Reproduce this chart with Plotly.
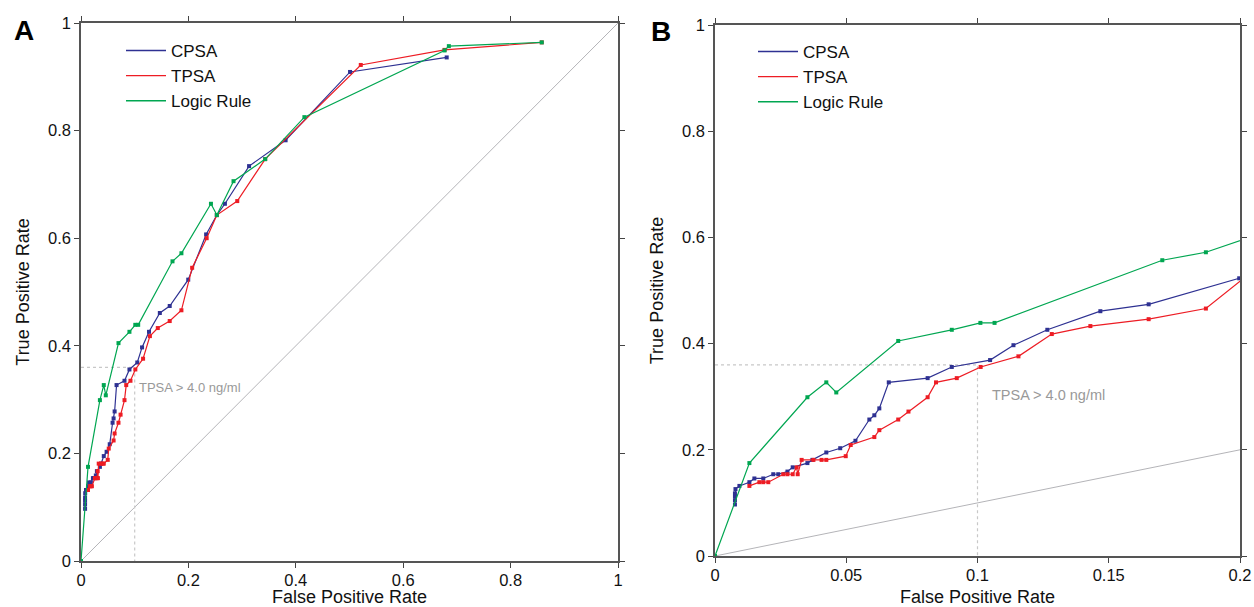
import plotly.graph_objects as go

# ---------------- data ----------------
cpsa_fpr = [0.0076, 0.0076, 0.0076, 0.0076, 0.0078, 0.0093, 0.0131, 0.0150, 0.0184, 0.0222,
            0.0241, 0.0276, 0.0296, 0.0352, 0.0371, 0.0424, 0.0477, 0.0535, 0.0588, 0.0607,
            0.0626, 0.0662, 0.0810, 0.0902, 0.1048, 0.1137, 0.1266, 0.1468, 0.1652, 0.1997,
            0.233, 0.253, 0.268, 0.313, 0.381, 0.501, 0.681]
cpsa_tpr = [0.097, 0.105, 0.112, 0.118, 0.126, 0.132, 0.139, 0.146, 0.146, 0.154,
            0.154, 0.159, 0.167, 0.175, 0.181, 0.195, 0.203, 0.217, 0.257, 0.265,
            0.278, 0.327, 0.335, 0.356, 0.369, 0.397, 0.426, 0.461, 0.474, 0.523,
            0.607, 0.643, 0.664, 0.734, 0.782, 0.909, 0.936]

tpsa_fpr = [0.0131, 0.0169, 0.0184, 0.0203, 0.0260, 0.0276, 0.0296, 0.0311, 0.0315, 0.0330,
            0.0375, 0.0406, 0.0424, 0.0498, 0.0517, 0.0607, 0.0626, 0.0698, 0.0737, 0.0810,
            0.0842, 0.0921, 0.1012, 0.1156, 0.1283, 0.1430, 0.1652, 0.1870, 0.207, 0.234,
            0.253, 0.291, 0.343, 0.521, 0.677, 0.858]
tpsa_tpr = [0.132, 0.139, 0.139, 0.139, 0.154, 0.154, 0.154, 0.167, 0.154, 0.181,
            0.181, 0.181, 0.181, 0.188, 0.209, 0.224, 0.237, 0.257, 0.272, 0.299,
            0.327, 0.335, 0.356, 0.376, 0.418, 0.433, 0.446, 0.466, 0.545, 0.600,
            0.643, 0.669, 0.747, 0.922, 0.950, 0.964]

logic_fpr = [0.0, 0.0131, 0.0352, 0.0424, 0.0462, 0.0698, 0.0902, 0.1011, 0.1065, 0.1704,
             0.1870, 0.242, 0.253, 0.284, 0.343, 0.416, 0.677, 0.685, 0.858]
logic_tpr = [0.0, 0.175, 0.299, 0.327, 0.308, 0.405, 0.426, 0.439, 0.439, 0.557,
             0.572, 0.664, 0.643, 0.706, 0.747, 0.825, 0.949, 0.957, 0.964]

chance_x = [0, 1]
chance_y = [0, 1]

cutoff_fpr = 0.1
cutoff_tpr = 0.36
cutoff_label = "TPSA > 4.0 ng/ml"

series = [
    ("CPSA", cpsa_fpr, cpsa_tpr, "#2e3192"),
    ("TPSA", tpsa_fpr, tpsa_tpr, "#ed1c24"),
    ("Logic Rule", logic_fpr, logic_tpr, "#00a651"),
]

# ---------------- figure ----------------
W, H = 1254, 607
FONT = "Liberation Sans, Arial, sans-serif"

fig = go.Figure()

for panel, (xa, ya, lg) in enumerate([("x", "y", "legend"), ("x2", "y2", "legend2")]):
    # chance diagonal
    fig.add_trace(go.Scatter(x=chance_x, y=chance_y, mode="lines", xaxis=xa, yaxis=ya,
                             line=dict(color="#b4b4b8", width=1), showlegend=False,
                             hoverinfo="skip"))
    # cutoff guide
    fig.add_trace(go.Scatter(x=[0, cutoff_fpr, cutoff_fpr], y=[cutoff_tpr, cutoff_tpr, 0],
                             mode="lines", xaxis=xa, yaxis=ya,
                             line=dict(color="#c8c8c8", width=1.2, dash="dot"),
                             showlegend=False, hoverinfo="skip"))
    for name, fx, ty, col in series:
        fig.add_trace(go.Scatter(x=fx, y=ty, mode="lines+markers", name=name,
                                 xaxis=xa, yaxis=ya, showlegend=False,
                                 line=dict(color=col, width=1.2),
                                 marker=dict(symbol="square", size=4, color=col)))
    # legend entries (line only, as in the reference)
    for name, fx, ty, col in series:
        fig.add_trace(go.Scatter(x=[None], y=[None], mode="lines", name=name,
                                 xaxis=xa, yaxis=ya, legend=lg,
                                 line=dict(color=col, width=1.4)))

axis_common = dict(showline=True, mirror="ticks", ticks="outside", ticklen=5, tickwidth=1,
                   tickcolor="#444", linecolor="#555", linewidth=1.5, showgrid=False,
                   zeroline=False, tickfont=dict(family=FONT, size=16.5, color="#111"),
                   automargin=False)

fig.update_layout(
    width=W, height=H,
    margin=dict(l=0, r=0, t=0, b=0),
    paper_bgcolor="white", plot_bgcolor="white",
    font=dict(family=FONT, color="#111"),
    xaxis=dict(domain=[81 / W, 618 / W], range=[0, 1], dtick=0.2, anchor="y",
               ticklabelstandoff=-2,
               title=dict(text="False Positive Rate", font=dict(size=18), standoff=8),
               **axis_common),
    yaxis=dict(domain=[1 - 561 / H, 1 - 23 / H], range=[0, 1], dtick=0.2, anchor="x",
               title=dict(text="True Positive Rate", font=dict(size=18), standoff=14),
               **axis_common),
    xaxis2=dict(domain=[715 / W, 1240 / W], range=[0, 0.2], dtick=0.05, anchor="y2",
                ticklabelstandoff=-2,
                title=dict(text="False Positive Rate", font=dict(size=18), standoff=8),
                **axis_common),
    yaxis2=dict(domain=[1 - 556 / H, 1 - 25 / H], range=[0, 1], dtick=0.2, anchor="x2",
                title=dict(text="True Positive Rate", font=dict(size=18), standoff=14),
                **axis_common),
    legend=dict(x=121 / W, y=1 - 33 / H, xanchor="left", yanchor="top",
                bgcolor="rgba(0,0,0,0)", font=dict(family=FONT, size=17, color="#111"),
                itemwidth=40),
    legend2=dict(x=753 / W, y=1 - 34 / H, xanchor="left", yanchor="top",
                 bgcolor="rgba(0,0,0,0)", font=dict(family=FONT, size=17, color="#111"),
                 itemwidth=40),
    annotations=[
        dict(text="<b>A</b>", x=24 / W, y=1 - 30 / H, xref="paper", yref="paper",
             xanchor="center", yanchor="middle",
             showarrow=False, font=dict(family=FONT, size=28, color="#000")),
        dict(text="<b>B</b>", x=661 / W, y=1 - 32 / H, xref="paper", yref="paper",
             xanchor="center", yanchor="middle",
             showarrow=False, font=dict(family=FONT, size=28, color="#000")),
        dict(text=cutoff_label, x=cutoff_fpr + 0.005, y=0.323, xref="x", yref="y",
             xanchor="left", yanchor="middle", showarrow=False,
             font=dict(family=FONT, size=13, color="#999")),
        dict(text=cutoff_label, x=cutoff_fpr + 0.0048, y=0.303, xref="x2", yref="y2",
             xanchor="left", yanchor="middle", showarrow=False,
             font=dict(family=FONT, size=14.5, color="#999")),
    ],
)

fig.write_html("out.html", config={"displayModeBar": False},
               post_script="document.body.style.margin='0';document.body.style.overflow='hidden';")
